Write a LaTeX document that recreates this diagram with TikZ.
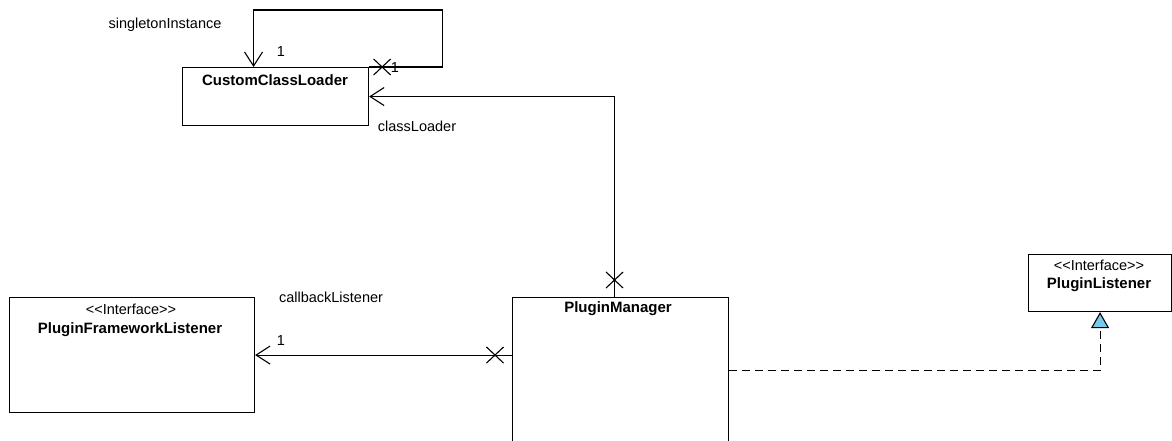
\documentclass[tikz,border=0pt]{standalone}
\usepackage{fontspec}
\setmainfont{Liberation Sans}
\usetikzlibrary{arrows.meta,shapes.misc,calc}
\definecolor{umlblue}{RGB}{120,200,235}
\tikzset{
  box/.style={draw, line width=1.1pt, rectangle, anchor=north west, inner sep=0pt},
  lbl/.style={font=\fontsize{14.5}{17}\selectfont, inner sep=0pt},
  ttl/.style={font=\bfseries\fontsize{15}{18}\selectfont, inner sep=0pt},
  assoc/.style={line width=1.1pt, -{Straight Barb[length=14pt,width=18pt,line width=1.1pt]}},
  real/.style={line width=1.1pt, dash pattern=on 8pt off 5pt, -{Triangle[length=16pt,width=18pt,fill=umlblue,line width=1.1pt]}},
  xmark/.style={cross out, draw, line width=1.1pt, minimum width=16pt, minimum height=15pt, inner sep=0pt}
}
\newcommand{\stereo}{\mbox{<}\mbox{<}Interface\mbox{>}\mbox{>}}
\begin{document}
\begin{tikzpicture}[x=1pt,y=-1pt]
\useasboundingbox (0,0) rectangle (1172,441);
% boxes
\node[box, minimum width=186pt, minimum height=58pt] (ccl) at (182,67) {};
\node[box, minimum width=245pt, minimum height=115pt] (pfl) at (9,297) {};
\node[box, minimum width=216pt, minimum height=146pt] (pm) at (512,297) {};
\node[box, minimum width=143pt, minimum height=57pt] (pl) at (1028,254) {};
% titles
\node[ttl] (cclt) at (275,80) {CustomClassLoader};
\node[lbl] (pfls) at (131,309) {\stereo};
\node[ttl] (pflt) at (130,330) {PluginFrameworkListener};
\node[ttl] (pmt) at (618,309) {PluginManager};
\node[lbl] (pls) at (1099,265) {\stereo};
\node[ttl] (plt) at (1099,285) {PluginListener};
% self association
\draw[assoc] (ccl.north east) -- ++(73,0) -- ++(0,-57) -| ([xshift=-22pt]ccl.north);
\node[xmark] (x1) at ([xshift=13pt]ccl.north east) {};
\node[lbl] (m1) at (395,68) {1};
\node[lbl] (m2) at (281,52) {1};
\node[lbl] (r1) at (165,25) {singletonInstance};
% classLoader
\draw[assoc] ([xshift=-6pt]pm.north) |- (ccl.east);
\node[xmark] (x2) at ([xshift=-6pt,yshift=17pt]pm.north) {};
\node[lbl] (r2) at (417,126) {classLoader};
% callbackListener
\draw[assoc] (pm.west |- pfl.east) -- (pfl.east);
\node[xmark] (x3) at ([xshift=-17pt]pm.west |- pfl.east) {};
\node[lbl] (m3) at (281,341) {1};
\node[lbl] (r3) at (331,297) {callbackListener};
% realization
\draw[real] (pm.east) -| (pl.south);
\end{tikzpicture}
\end{document}
